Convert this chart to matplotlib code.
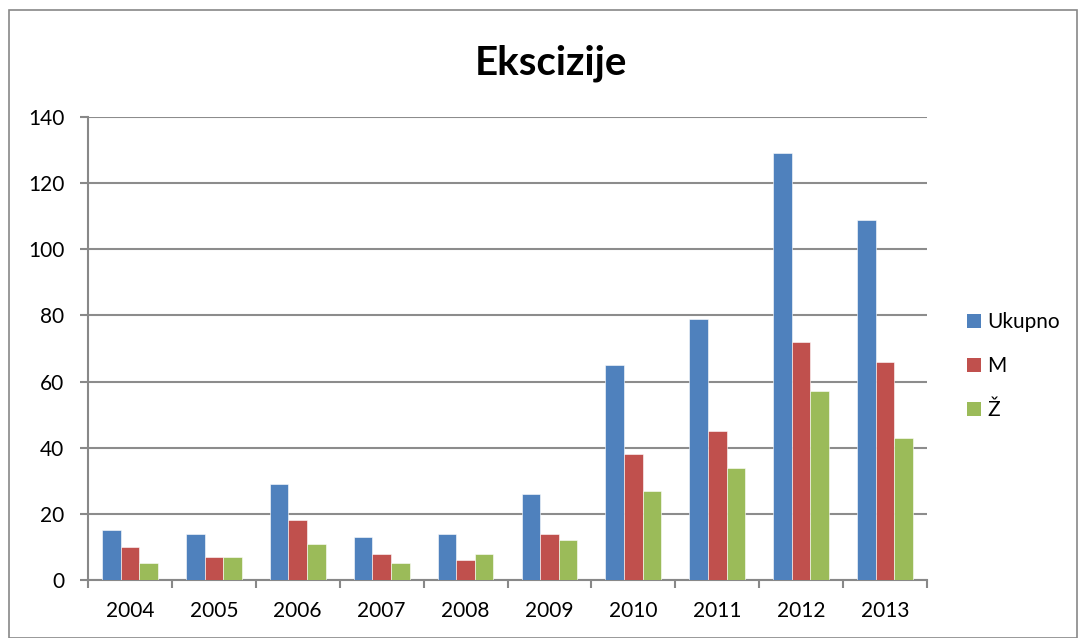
import matplotlib
matplotlib.use("Agg")
import matplotlib.pyplot as plt
import numpy as np
from matplotlib.patches import Rectangle, Patch

years = ["2004", "2005", "2006", "2007", "2008", "2009", "2010", "2011", "2012", "2013"]
ukupno = [15, 14, 29, 13, 14, 26, 65, 79, 129, 109]
m_vals = [10, 7, 18, 8, 6, 14, 38, 45, 72, 66]
z_vals = [5, 7, 11, 5, 8, 12, 27, 34, 57, 43]
series_names = ["Ukupno", "M", "Ž"]
colors = ["#4F81BD", "#C0504D", "#9BBB59"]

plt.rcParams['font.family'] = ['Lato', 'DejaVu Sans']

W, H = 1081, 638
fig = plt.figure(figsize=(W / 100, H / 100), dpi=100)
ax = fig.add_axes([88 / W, 1 - 580 / H, (927 - 88) / W, (580 - 117) / H])

# outer chart border
fig.patches.append(Rectangle((9 / W, 0.0), (1077 - 9) / W, 1 - 10 / H,
                             transform=fig.transFigure, fill=False,
                             edgecolor="#888888", linewidth=1.2))

x = np.arange(len(years))
bw = 0.222
for i, (vals, c, name) in enumerate(zip([ukupno, m_vals, z_vals], colors, series_names)):
    ax.bar(x + (i - 1) * bw, vals, width=bw, color=c, edgecolor="white",
           linewidth=0.4, label=name, zorder=3)

ax.set_xlim(-0.5, len(years) - 0.5)
ax.set_ylim(0, 140)
ax.set_yticks(range(0, 141, 20))
ax.set_xticks(x)
ax.set_xticklabels(years)
ax.set_xticks(np.arange(-0.5, len(years), 1.0), minor=True)
ax.tick_params(axis='x', which='major', length=0, pad=15, labelsize=15)
ax.tick_params(axis='x', which='minor', length=6, width=1.5, color="#888888", direction='out')
ax.tick_params(axis='y', length=6, width=1.5, color="#888888", labelsize=15, pad=11, direction='out')
ax.grid(axis='y', color="#8c8c8c", linewidth=1.5, zorder=0)
for s in ["top", "right"]:
    ax.spines[s].set_visible(False)
for s in ["left", "bottom"]:
    ax.spines[s].set_color("#888888")
    ax.spines[s].set_linewidth(1.5)

fig.text(551 / W, 1 - 75 / H, "Ekscizije", ha="center", va="baseline",
         fontsize=29, fontweight="bold")

handles = [Patch(facecolor=c, edgecolor="none") for c in colors]
fig.legend(handles, series_names, loc="center left",
           bbox_to_anchor=(948 / W, 1 - 366 / H), frameon=False,
           fontsize=15, handlelength=0.67, handleheight=0.67,
           handletextpad=0.3, labelspacing=1.15)

fig.savefig("out.png", dpi=100)
